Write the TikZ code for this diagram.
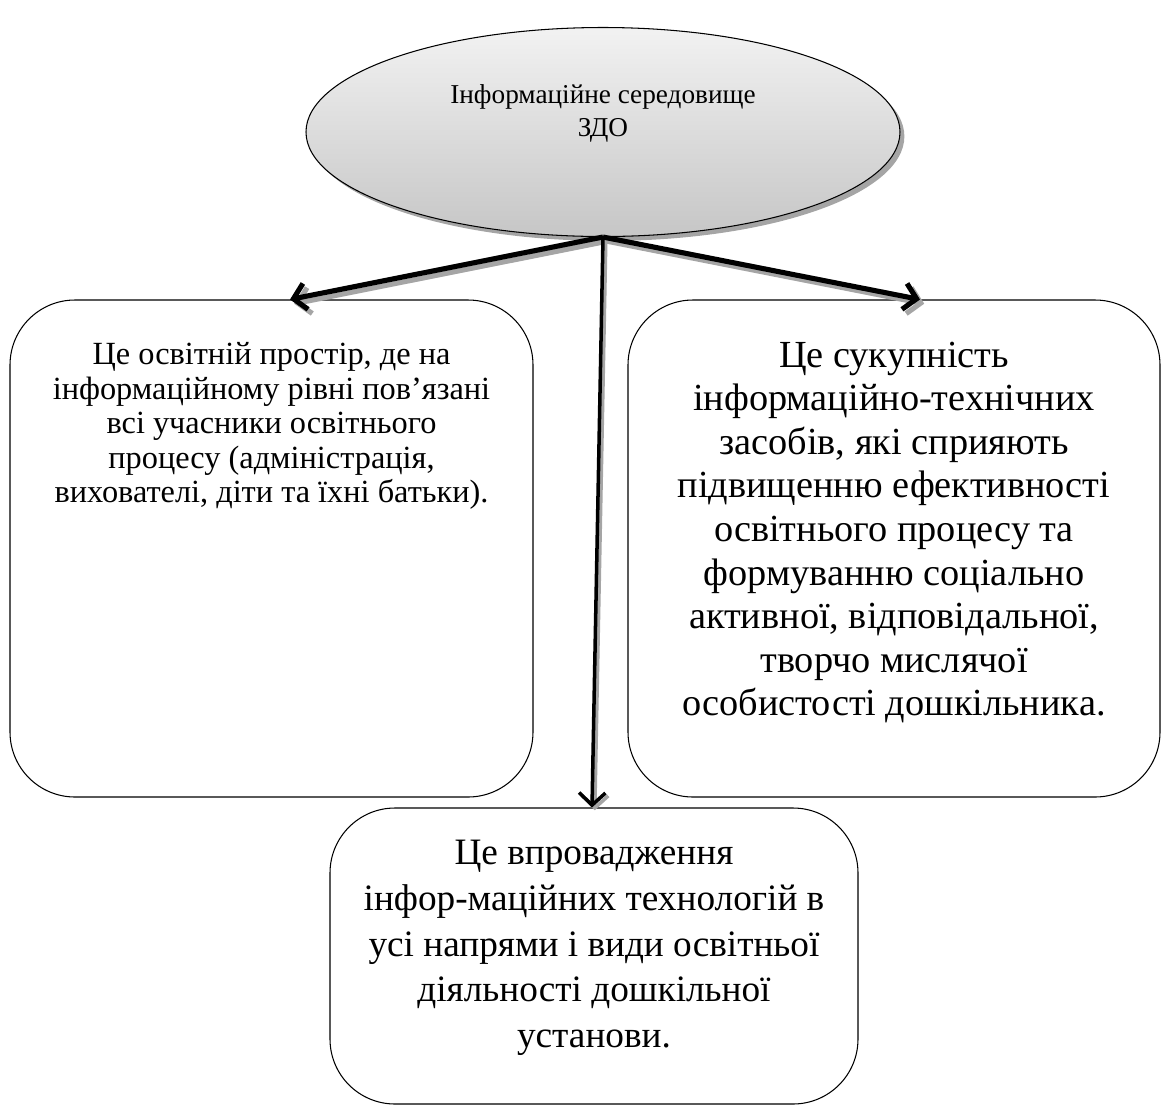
\documentclass[tikz,border=0pt]{standalone}
\usepackage{fontspec}
\setmainfont{Liberation Serif}
\usetikzlibrary{arrows.meta, positioning, shapes.geometric, shadows, calc}
\definecolor{shadowgray}{RGB}{165,165,165}
\definecolor{ellipsetop}{RGB}{242,242,242}
\definecolor{ellipsebottom}{RGB}{198,198,198}
\tikzset{
  infobox/.style={draw=black, line width=0.6pt, rounded corners=1.3cm, fill=white},
  infotext/.style={align=center, font=\fontsize{18.4}{19.6}\selectfont},
  bigtext/.style={align=center, font=\fontsize{21.8}{24.8}\selectfont},
  lowtext/.style={align=center, font=\fontsize{21.2}{26}\selectfont},
  arrowline/.style={draw=black, line width=2.9pt, -{Straight Barb[length=7pt,width=15pt]}},
  arrowshade/.style={draw=shadowgray, line width=2.9pt, -{Straight Barb[length=7pt,width=15pt]}},
}

\begin{document}
\begin{tikzpicture}
  \useasboundingbox (0,0) rectangle (23.34,-22.24);

  % top ellipse
  \node[ellipse, draw=black, line width=0.6pt, minimum width=11.88cm, minimum height=4.18cm,
        top color=ellipsetop, bottom color=ellipsebottom,
        drop shadow={shadow xshift=2.5pt, shadow yshift=-2.5pt, fill=shadowgray, opacity=1}]
    (zdo) at (12.06,-2.64) {};
  \node[align=center, font=\fontsize{15.5}{18.8}\selectfont] (zdotext)
    at ($(zdo.center)+(0,0.38)$) {Інформаційне середовище\\ЗДО};

  % boxes
  \node[infobox, minimum width=10.46cm, minimum height=9.94cm] (leftbox) at (5.43,-10.97) {};
  \node[infobox, minimum width=10.64cm, minimum height=9.94cm] (rightbox) at (17.88,-10.97) {};
  \node[infobox, minimum width=10.56cm, minimum height=5.92cm] (bottombox) at (11.88,-19.12) {};

  \node[infotext, anchor=north] (lefttext) at ($(leftbox.north)+(0,-0.74)$)
    {Це освітній простір, де на\\інформаційному рівні пов’язані\\всі учасники освітнього\\процесу (адміністрація,\\вихователі, діти та їхні батьки).};
  \node[bigtext] (righttext) at ($(rightbox.center)+(0,0.32)$)
    {Це сукупність\\інформаційно-технічних\\засобів, які сприяють\\підвищенню ефективності\\освітнього процесу та\\формуванню соціально\\активної, відповідальної,\\творчо мислячої\\особистості дошкільника.};
  \node[lowtext] (bottomtext) at ($(bottombox.center)+(0,0.16)$)
    {Це впровадження\\інфор-маційних технологій в\\усі напрями і види освітньої\\діяльності дошкільної\\установи.};

  % arrows with shadows
  \draw[arrowshade] ([shift={(2.4pt,-2.4pt)}]zdo.south) -- ([shift={(0.37cm+2.4pt,-2.4pt)}]leftbox.north);
  \draw[arrowshade] ([shift={(2.4pt,-2.4pt)}]zdo.south) -- ([shift={(0.52cm+2.4pt,-2.4pt)}]rightbox.north);
  \draw[arrowshade, line width=2pt] ([shift={(1.6pt,-1.6pt)}]zdo.south) -- ([shift={(-0.04cm+1.6pt,-1.6pt)}]bottombox.north);
  \draw[arrowline] (zdo.south) -- ([xshift=0.37cm]leftbox.north);
  \draw[arrowline] (zdo.south) -- ([xshift=0.52cm]rightbox.north);
  \draw[arrowline, line width=2pt] (zdo.south) -- ([xshift=-0.04cm]bottombox.north);
\end{tikzpicture}
\end{document}
